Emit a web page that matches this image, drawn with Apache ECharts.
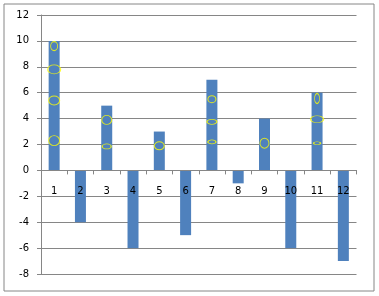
<!DOCTYPE html>
<html>
<head>
<meta charset="utf-8">
<script src="https://cdn.jsdelivr.net/npm/echarts@6/dist/echarts.min.js"></script>
<style>html,body{margin:0;padding:0;background:#fff}#c{width:379px;height:296px}</style>
</head>
<body>
<div id="c"></div>
<script>
var categories = ['1','2','3','4','5','6','7','8','9','10','11','12'];
var barValues = [10, -4, 5, -6, 3, -5, 7, -1, 4, -6, 6, -7];
var markerCategory = [0, 0, 0, 0, 2, 2, 4, 6, 6, 6, 8, 10, 10, 10];
var markerValue = [9.6, 7.8, 5.4, 2.3, 3.9, 1.85, 1.9, 5.5, 3.75, 2.2, 2.1, 5.55, 3.95, 2.1];
var markerWidth = [7, 13, 11, 11, 10, 9, 10, 8, 10, 8, 9, 5, 13, 7];
var markerHeight = [9, 9, 9, 10, 9, 5, 8, 7, 5, 4, 10, 10, 7, 3];
var yTicks = [-8, 12, 2];

var markerData = markerCategory.map(function (c, i) {
  return { value: [c, markerValue[i]], symbolSize: [markerWidth[i], markerHeight[i]] };
});

var W = 379, H = 296;
var gridTop = 15, gridBottom = 22;
var plotH = H - gridTop - gridBottom;
// shift the category axis up so it sits on the value-axis zero line
var zeroOffset = -plotH * (0 - yTicks[0]) / (yTicks[1] - yTicks[0]);

var chart = echarts.init(document.getElementById('c'), null, { renderer: 'canvas' });
chart.setOption({
  animation: false,
  backgroundColor: '#fff',
  textStyle: { fontFamily: 'DejaVu Sans' },
  graphic: [{
    type: 'rect', left: 1.5, top: 1.5, silent: true,
    shape: { width: 370, height: 287 },
    style: { fill: 'none', stroke: '#868686', lineWidth: 1 }
  }],
  grid: { left: 41, right: 22.5, top: gridTop, bottom: gridBottom },
  xAxis: {
    type: 'category', data: categories, boundaryGap: true,
    position: 'bottom', offset: zeroOffset, z: 10,
    axisLine: { show: true, onZero: false, lineStyle: { color: '#868686' } },
    axisTick: { show: true, length: 4, interval: 0, lineStyle: { color: '#868686' } },
    axisLabel: { color: '#000', fontSize: 10, margin: 16, interval: 0 },
    splitLine: { show: false }
  },
  yAxis: {
    type: 'value', min: yTicks[0], max: yTicks[1], interval: yTicks[2],
    axisLine: { show: true, lineStyle: { color: '#868686' } },
    axisTick: { show: true, length: 4, lineStyle: { color: '#868686' } },
    axisLabel: { color: '#000', fontSize: 10, margin: 12 },
    splitLine: { lineStyle: { color: '#868686', width: 1 } }
  },
  series: [{
    type: 'bar', data: barValues, barWidth: 11,
    itemStyle: { color: '#4F81BD' }
  }, {
    type: 'scatter', data: markerData, symbol: 'circle', z: 5,
    itemStyle: { color: 'rgba(0,0,0,0)', borderColor: '#FFFF00', borderWidth: 1 }
  }]
});
</script>
</body>
</html>
